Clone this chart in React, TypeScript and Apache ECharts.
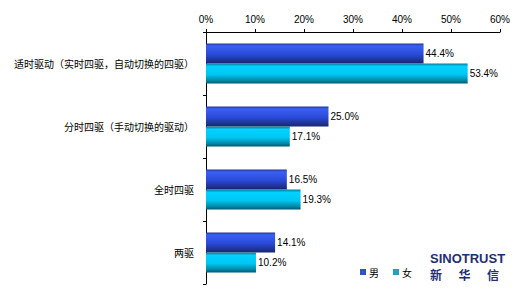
import React, { useEffect, useRef } from "react";
import * as echarts from "echarts";

const categories = [
  "适时驱动（实时四驱，自动切换的四驱）",
  "分时四驱（手动切换的驱动）",
  "全时四驱",
  "两驱",
];
const maleValues = [44.4, 25.0, 16.5, 14.1];
const femaleValues = [53.4, 17.1, 19.3, 10.2];
const seriesNames = ["男", "女"];
const logoChars = ["新", "华", "信"];

export default function App() {
  const ref = useRef<HTMLDivElement>(null);
  useEffect(() => {
    document.body.style.margin = "0";
    const chart = echarts.init(ref.current!, null, { renderer: "svg" });
    const maleGrad = new echarts.graphic.LinearGradient(0, 0, 0, 1, [
      { offset: 0, color: "#22359a" },
      { offset: 0.12, color: "#3a60f2" },
      { offset: 0.55, color: "#2a4ad8" },
      { offset: 0.85, color: "#1e3290" },
      { offset: 1, color: "#162670" },
    ]);
    const femaleGrad = new echarts.graphic.LinearGradient(0, 0, 0, 1, [
      { offset: 0, color: "#0a7c98" },
      { offset: 0.15, color: "#00d2ff" },
      { offset: 0.55, color: "#00c6f2" },
      { offset: 0.85, color: "#0088a8" },
      { offset: 1, color: "#005870" },
    ]);
    const labelCfg = {
      show: true,
      position: "right" as const,
      distance: 2,
      color: "#000",
      fontSize: 10,
      fontFamily: "Arial, 'Liberation Sans', sans-serif",
      formatter: (p: any) => p.value.toFixed(1) + "%",
    };
    chart.setOption({
      animation: false,
      backgroundColor: "#fff",
      grid: { left: 206, right: 17, top: 32, bottom: 7 },
      legend: {
        left: 355,
        top: 262,
        itemWidth: 6,
        itemHeight: 6,
        itemGap: 14,
        icon: "rect",
        textStyle: {
          fontSize: 10,
          color: "#000",
          fontFamily: "'Noto Sans CJK SC', sans-serif",
          padding: [0, 0, 0, -2],
        },
        data: [
          { name: seriesNames[0], itemStyle: { color: "#3355bb" } },
          { name: seriesNames[1], itemStyle: { color: "#22a0c0" } },
        ],
      },
      xAxis: {
        type: "value",
        position: "top",
        min: 0,
        max: 60,
        interval: 10,
        axisLine: { show: true, lineStyle: { color: "#000", width: 1 } },
        axisTick: { show: true, length: 3, lineStyle: { color: "#000" } },
        splitLine: { show: false },
        axisLabel: {
          formatter: "{value}%",
          color: "#000",
          fontSize: 10,
          margin: 8,
          fontFamily: "Arial, 'Liberation Sans', sans-serif",
        },
      },
      yAxis: {
        type: "category",
        inverse: true,
        data: categories,
        axisLine: { show: true, lineStyle: { color: "#000", width: 1 } },
        axisTick: { show: true, length: 3, lineStyle: { color: "#000" } },
        axisLabel: {
          color: "#000",
          fontSize: 10,
          margin: 12,
          fontFamily: "'Noto Sans CJK SC', sans-serif",
        },
      },
      series: [
        {
          name: seriesNames[0],
          type: "bar",
          data: maleValues,
          barWidth: 20,
          barGap: "0%",
          itemStyle: { color: maleGrad },
          label: labelCfg,
        },
        {
          name: seriesNames[1],
          type: "bar",
          data: femaleValues,
          barWidth: 20,
          barGap: "0%",
          itemStyle: { color: femaleGrad },
          label: labelCfg,
        },
      ],
      graphic: [
        {
          type: "text",
          left: 430,
          top: 252,
          style: {
            text: "SINOTRUST",
            fill: "#1f2f72",
            font: "bold 13px 'Liberation Sans Narrow', Arial, 'Liberation Sans', sans-serif",
            lineHeight: 13,
          },
        },
        ...logoChars.map((c, i) => ({
          type: "text",
          left: 430 + i * 28.5,
          top: 268,
          style: {
            text: c,
            fill: "#1f2f72",
            font: "bold 12px 'Noto Sans CJK SC', sans-serif",
            lineHeight: 12,
          },
        })),
      ],
    });
    return () => chart.dispose();
  }, []);
  return <div ref={ref} style={{ width: 517, height: 291 }} />;
}
